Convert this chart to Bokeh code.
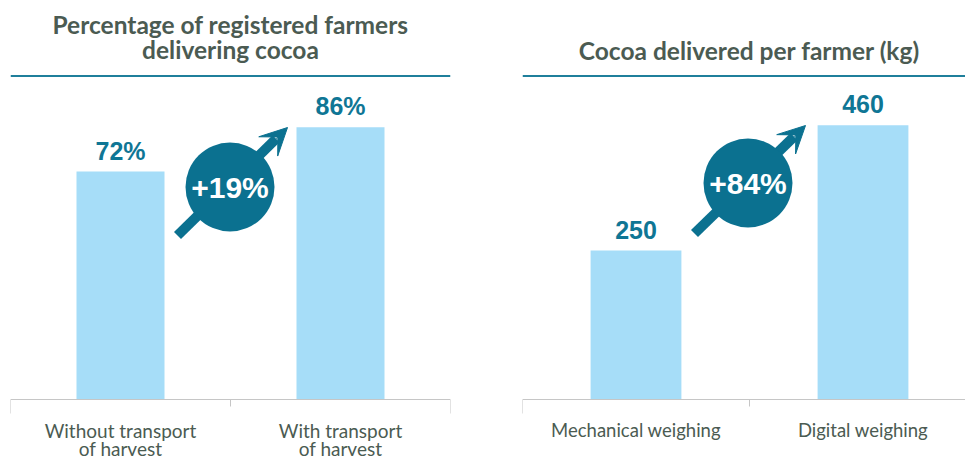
from bokeh.plotting import figure
from bokeh.layouts import row
from bokeh.models import Range1d, Span, Arrow, VeeHead
from bokeh.core.properties import value
from bokeh.embed import file_html
from bokeh.resources import INLINE

# ---------------- data ----------------
left_title = ["Percentage of registered farmers", "delivering cocoa"]
left_categories = ["Without transport\nof harvest", "With transport\nof harvest"]
left_values = [72, 86]
left_labels = ["72%", "86%"]

right_title = ["Cocoa delivered per farmer (kg)"]
right_categories = ["Mechanical weighing", "Digital weighing"]
right_values = [250, 460]
right_labels = ["250", "460"]

# ---------------- style ----------------
BAR = "#a6ddf8"
TEAL = "#0b7190"
LABEL_TEAL = "#0f7695"
LINE_TEAL = "#1f7f9b"
TEXT = "#4b5b52"
AXIS = "#c6c6c6"
HEIGHT = 459
BASE = 399          # pixel row of the category axis
BELOW = HEIGHT - BASE


def panel(categories, values, labels, title_lines, title_centers,
          width, border_left, border_right, cat_px, y_px,
          circle_c, arrow_start, arrow_tip, cat_font):
    frame_w = width - border_left - border_right

    def dx(px):
        return px / cat_px

    def dy(px):
        return px / y_px

    p = figure(width=width, height=HEIGHT, output_backend="svg",
               toolbar_location=None, x_range=Range1d(0, dx(frame_w)),
               y_range=Range1d(-dy(BELOW), dy(BASE)),
               x_axis_location=None, y_axis_location=None,
               min_border_left=border_left, min_border_right=border_right,
               min_border_top=0, min_border_bottom=0)
    p.outline_line_color = None
    p.xgrid.visible = False
    p.ygrid.visible = False
    p.background_fill_color = "white"
    p.border_fill_color = "white"

    n = len(categories)
    xs = [i + 0.5 for i in range(n)]

    # category axis: line, boundary ticks and labels
    p.add_layout(Span(location=0, dimension="width", line_color=AXIS, line_width=1))
    bounds = list(range(n + 1))
    tick_len = [dy(14) if b in (0, n) else dy(7) for b in bounds]
    p.segment(x0=bounds, y0=[0] * len(bounds), x1=bounds, y1=[-t for t in tick_len],
              line_color=AXIS, line_width=1)
    split = [c.split("\n") for c in categories]
    for k in range(max(len(s) for s in split)):
        line_x = [x for x, s in zip(xs, split) if len(s) > k]
        line_t = [s[k] for s in split if len(s) > k]
        p.text(x=line_x, y=[0] * len(line_x), text=line_t, y_offset=30.5 + 18 * k,
               text_align="center", text_baseline="middle",
               text_font=value("Lato"), text_font_size=cat_font, text_color=TEXT)

    # bars and value labels
    p.vbar(x=xs, top=values, width=0.4, color=BAR, line_color=None)
    p.text(x=xs, y=values, text=labels, y_offset=-21,
           text_align="center", text_baseline="middle",
           text_font=value("Liberation Sans"), text_font_style="bold",
           text_font_size="25px", text_color=LABEL_TEAL)

    # title and underline
    p.text(x=[n / 2] * len(title_lines), y=[dy(BASE - c) for c in title_centers],
           text=title_lines, text_align="center", text_baseline="middle",
           text_font=value("Lato"), text_font_style="bold",
           text_font_size="24.5px", text_color=TEXT)
    p.add_layout(Span(location=dy(BASE - 75.5), dimension="width",
                      line_color=LINE_TEAL, line_width=2))

    # growth arrow
    sx, sy = arrow_start
    tx, ty = arrow_tip
    L = ((tx - sx) ** 2 + (ty - sy) ** 2) ** 0.5
    ux, uy = (tx - sx) / L, (ty - sy) / L
    bx, by = tx - 16 * ux, ty - 16 * uy
    p.segment(x0=[dx(sx)], y0=[dy(sy)], x1=[dx(bx)], y1=[dy(by)],
              line_color=TEAL, line_width=10, line_cap="butt")
    p.add_layout(Arrow(end=VeeHead(size=27, fill_color=TEAL, line_color=TEAL),
                       x_start=dx(bx), y_start=dy(by), x_end=dx(tx), y_end=dy(ty),
                       line_color=TEAL, line_width=1))

    cx, cy = circle_c
    p.scatter(x=[dx(cx)], y=[dy(cy)], size=89, marker="circle",
              fill_color=TEAL, line_color=None)
    pct = round((values[1] / values[0] - 1) * 100)
    p.text(x=[dx(cx)], y=[dy(cy)], text=[f"+{pct}%"], text_align="center",
           text_baseline="middle", text_font=value("Liberation Sans"),
           text_font_style="bold", text_font_size="30px", text_color="white")
    return p


# offsets are in pixels measured from the left end of the axis and the baseline
p1 = panel(left_categories, left_values, left_labels, left_title,
           [24, 49],
           width=490, border_left=10, border_right=40, cat_px=220, y_px=3.165,
           circle_c=(219.5, 212.5), arrow_start=(167, 164), arrow_tip=(277, 272),
           cat_font="19px")
p2 = panel(right_categories, right_values, right_labels, right_title,
           [50],
           width=475, border_left=32, border_right=0, cat_px=227, y_px=0.596,
           circle_c=(225.5, 216.5), arrow_start=(172, 166), arrow_tip=(283, 274),
           cat_font="18.5px")

layout = row(p1, p2)
open("out.html", "w").write(file_html(layout, INLINE))
